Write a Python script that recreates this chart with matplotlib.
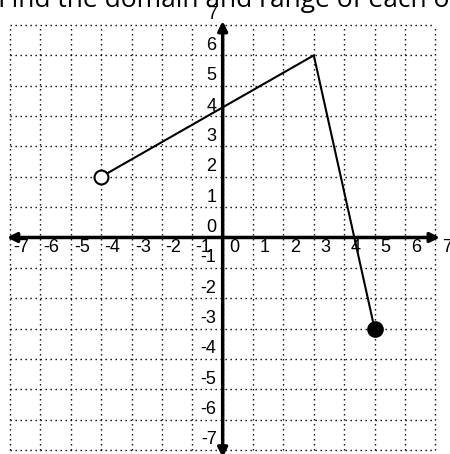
import numpy as np
import matplotlib
matplotlib.use("Agg")
import matplotlib.pyplot as plt

# piecewise graph: open end at the left, closed end at the right
xs = [-4, 3, 5]
ys = [2, 6, -3]
open_pt = (-4, 2)
closed_pt = (5, -3)
ticks = list(range(-7, 8))
title = "Find the domain and range of each of the following."

fig = plt.figure(figsize=(4.5, 4.54), dpi=100)
ax = fig.add_axes([0, 0, 1, 1])
ax.set_xlim(-7.329, 7.483)
ax.set_ylim(-7.132, 7.823)
ax.axis("off")

# dotted grid
for t in ticks:
    ax.plot([t, t], [-7, 7], color="black", lw=1.0, dashes=(1, 2.6), zorder=1)
    ax.plot([-7, 7], [t, t], color="black", lw=1.0, dashes=(1, 2.6), zorder=1)

# axes with arrows
arr = dict(arrowstyle="<|-|>", lw=2.5, color="black", mutation_scale=14,
           shrinkA=0, shrinkB=0)
ax.annotate("", xy=(7.15, 0), xytext=(-7.1, 0), arrowprops=arr, zorder=3)
ax.annotate("", xy=(0, 7.13), xytext=(0, -7.25), arrowprops=arr, zorder=3)

# tick labels
lab_font = dict(fontsize=13, family="Liberation Sans", color="black")
for t in ticks:
    ax.text(t + 0.37, -0.04, str(t), ha="center", va="top", **lab_font)
    ax.text(-0.2, t + 0.33, str(t), ha="right", va="center", **lab_font)

# the function
ax.plot(xs, ys, color="black", lw=1.5, zorder=4)
ax.plot(*open_pt, "o", ms=10, mfc="white", mec="black", mew=1.5, zorder=5)
ax.plot(*closed_pt, "o", ms=11, mfc="black", mec="black", zorder=5)

fig.text(-0.004, 1 - 7 / 454, title, fontsize=19, family="Open Sans",
         ha="left", va="baseline")

fig.savefig("out.png", dpi=100)
